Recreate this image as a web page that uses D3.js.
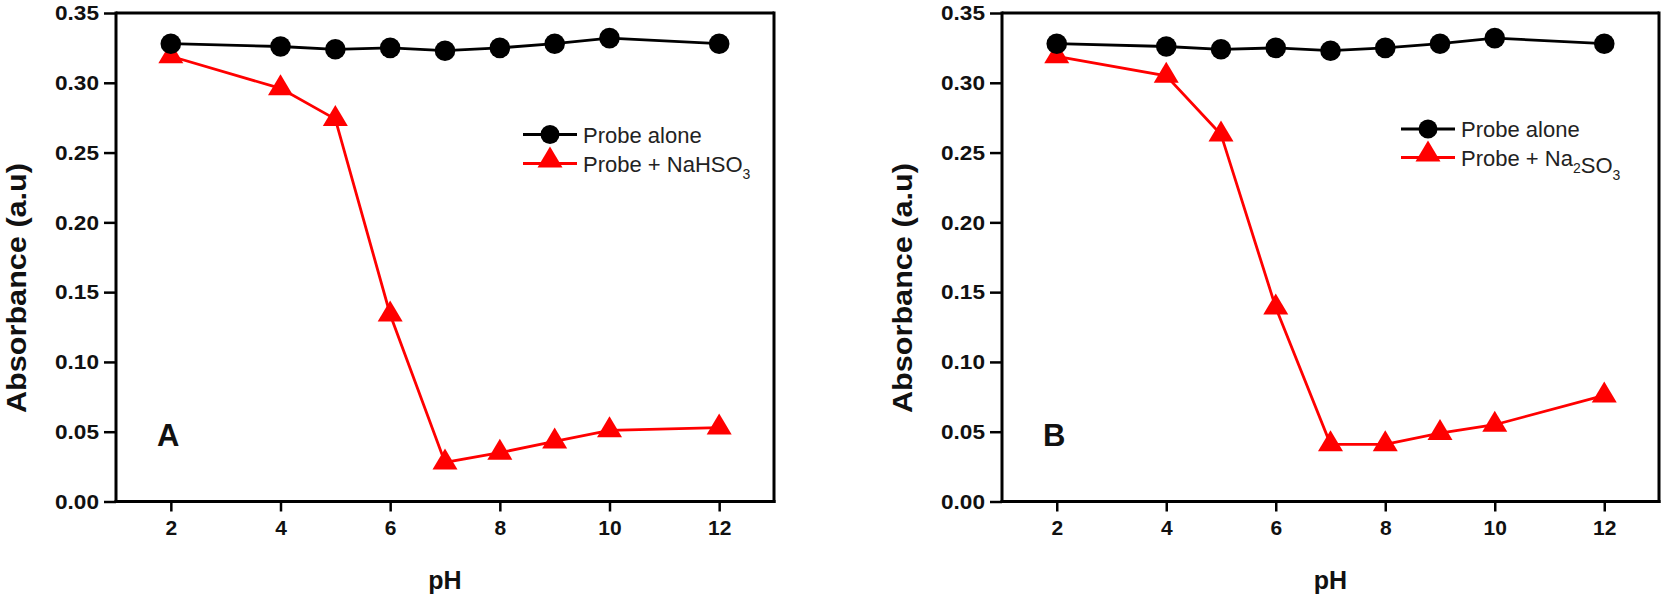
<!DOCTYPE html>
<html>
<head>
<meta charset="utf-8">
<script src="https://cdn.jsdelivr.net/npm/d3@7"></script>
<style>
  html, body { margin: 0; padding: 0; background: #fff; }
  svg { display: block; }
  text { font-family: "Liberation Sans", Arial, sans-serif; }
</style>
</head>
<body>
<svg id="chart" width="1666" height="602"></svg>
<script>
// ---- data ----
const phValues = [2, 4, 5, 6, 7, 8, 9, 10, 12];
const probeAloneA = [0.328, 0.326, 0.324, 0.325, 0.323, 0.325, 0.328, 0.332, 0.328];
const probeNaHSO3A = [0.319, 0.296, 0.274, 0.134, 0.028, 0.035, 0.043, 0.051, 0.053];
const probeAloneB = [0.328, 0.326, 0.324, 0.325, 0.323, 0.325, 0.328, 0.332, 0.328];
const probeNa2SO3B = [0.319, 0.305, 0.263, 0.139, 0.041, 0.041, 0.049, 0.055, 0.076];
const xTicks = [2, 4, 6, 8, 10, 12];
const yTicks = [0, 0.05, 0.10, 0.15, 0.20, 0.25, 0.30, 0.35];
const xDomain = [1, 13];
const yDomain = [0, 0.35];
const yTitle = "Absorbance (a.u)";
const xTitle = "pH";
const legendAlone = "Probe alone";

const svg = d3.select("#chart");

function fitLength(sel, len) {
  sel.attr("textLength", len).attr("lengthAdjust", "spacingAndGlyphs");
}
function stretch(sel, k) {
  sel.each(function () {
    const L = this.getComputedTextLength();
    d3.select(this).attr("textLength", L * k).attr("lengthAdjust", "spacingAndGlyphs");
  });
}

const triSide = 25, triH = 21;
const triPath = `M0,${-triH * 2 / 3} L${triSide / 2},${triH / 3} L${-triSide / 2},${triH / 3} Z`;

function panel(cfg) {
  const x = d3.scaleLinear().domain(xDomain).range([cfg.left, cfg.right]);
  const y = d3.scaleLinear().domain(yDomain).range([cfg.bottom, cfg.top]);
  const g = svg.append("g");

  // frame top & right
  g.append("line").attr("x1", cfg.left).attr("x2", cfg.right).attr("y1", cfg.top).attr("y2", cfg.top)
    .attr("stroke", "#000").attr("stroke-width", 3);
  g.append("line").attr("x1", cfg.right).attr("x2", cfg.right).attr("y1", cfg.top - 1.5).attr("y2", cfg.bottom + 1.5)
    .attr("stroke", "#000").attr("stroke-width", 3);

  // y axis
  const ya = g.append("g").attr("transform", `translate(${cfg.left},0)`)
    .call(d3.axisLeft(y).tickValues(yTicks).tickFormat(d3.format(".2f")).tickSize(12).tickPadding(5));
  ya.select(".domain").attr("stroke-width", 3).attr("d", `M0,${cfg.bottom + 1.5}V${cfg.top - 1.5}`);
  ya.selectAll(".tick line").attr("stroke-width", 2.5);
  ya.selectAll(".tick text").attr("font-size", 21).attr("font-weight", "bold").attr("fill", "#111")
    .attr("font-family", "'Liberation Sans', Arial, sans-serif");

  // x axis
  const xa = g.append("g").attr("transform", `translate(0,${cfg.bottom})`)
    .call(d3.axisBottom(x).tickValues(xTicks).tickSize(10).tickPadding(9));
  xa.select(".domain").attr("stroke-width", 3).attr("d", `M${cfg.left - 1.5},0H${cfg.right + 1.5}`);
  xa.selectAll(".tick line").attr("stroke-width", 2.5);
  xa.selectAll(".tick text").attr("font-size", 21).attr("font-weight", "bold").attr("fill", "#111")
    .attr("font-family", "'Liberation Sans', Arial, sans-serif");

  const line = d3.line().x((d, i) => x(phValues[i])).y(d => y(d));

  // red series
  g.append("path").datum(cfg.red).attr("d", line).attr("fill", "none")
    .attr("stroke", "#ff0000").attr("stroke-width", 2.8);
  g.selectAll(".tri").data(cfg.red).enter().append("path")
    .attr("d", triPath).attr("fill", "#ff0000")
    .attr("transform", (d, i) => `translate(${x(phValues[i])},${y(d)})`);

  // black series
  g.append("path").datum(cfg.black).attr("d", line).attr("fill", "none")
    .attr("stroke", "#000").attr("stroke-width", 2.8);
  g.selectAll(".dot").data(cfg.black).enter().append("circle")
    .attr("cx", (d, i) => x(phValues[i])).attr("cy", d => y(d)).attr("r", 10.3).attr("fill", "#000");

  // axis titles
  const yt = g.append("text").attr("transform", `translate(${cfg.left - 100},288) rotate(-90)`)
    .attr("text-anchor", "middle").attr("dy", "0.36em").attr("font-size", 27).attr("font-weight", "bold")
    .attr("fill", "#111").text(yTitle);
  g.append("text").attr("x", (cfg.left + cfg.right) / 2).attr("y", 589)
    .attr("text-anchor", "middle").attr("font-size", 25).attr("font-weight", "bold").attr("fill", "#111").text(xTitle);

  // panel letter
  g.append("text").attr("x", cfg.left + 41).attr("y", 446)
    .attr("font-size", 31).attr("font-weight", "bold").attr("fill", "#111").text(cfg.letter);

  // legend
  const lg = g.append("g");
  const rows = [cfg.legY1, cfg.legY2];
  lg.append("line").attr("x1", cfg.legX1).attr("x2", cfg.legX2).attr("y1", rows[0]).attr("y2", rows[0])
    .attr("stroke", "#000").attr("stroke-width", 2.8);
  lg.append("circle").attr("cx", (cfg.legX1 + cfg.legX2) / 2).attr("cy", rows[0]).attr("r", 9.5).attr("fill", "#000");
  lg.append("line").attr("x1", cfg.legX1).attr("x2", cfg.legX2).attr("y1", rows[1]).attr("y2", rows[1])
    .attr("stroke", "#ff0000").attr("stroke-width", 2.8);
  lg.append("path").attr("d", triPath).attr("fill", "#ff0000")
    .attr("transform", `translate(${(cfg.legX1 + cfg.legX2) / 2},${rows[1] - 3})`);
  lg.append("text").attr("x", cfg.legX2 + 6).attr("y", rows[0] + 8).attr("font-size", 22).attr("fill", "#222")
    .text(legendAlone);
  const t2 = lg.append("text").attr("x", cfg.legX2 + 6).attr("y", rows[1] + 8).attr("font-size", 22).attr("fill", "#222");
  cfg.legend2.forEach(part => {
    if (part.sub) {
      t2.append("tspan").attr("font-size", 14).attr("dy", 7).text(part.t);
      t2.append("tspan").attr("dy", -7).text("");
    } else {
      t2.append("tspan").text(part.t);
    }
  });

  fitLength(ya.selectAll(".tick text"), 44);
  fitLength(yt, 250);
}

panel({
  left: 116, right: 774, top: 13, bottom: 501.5,
  black: probeAloneA, red: probeNaHSO3A, letter: "A",
  legX1: 523, legX2: 577, legY1: 134.5, legY2: 163.5,
  legend2: [{ t: "Probe + NaHSO" }, { t: "3", sub: true }]
});
panel({
  left: 1002, right: 1659, top: 13, bottom: 501.5,
  black: probeAloneB, red: probeNa2SO3B, letter: "B",
  legX1: 1401, legX2: 1455, legY1: 129, legY2: 157.5,
  legend2: [{ t: "Probe + Na" }, { t: "2", sub: true }, { t: "SO" }, { t: "3", sub: true }]
});
</script>
</body>
</html>
